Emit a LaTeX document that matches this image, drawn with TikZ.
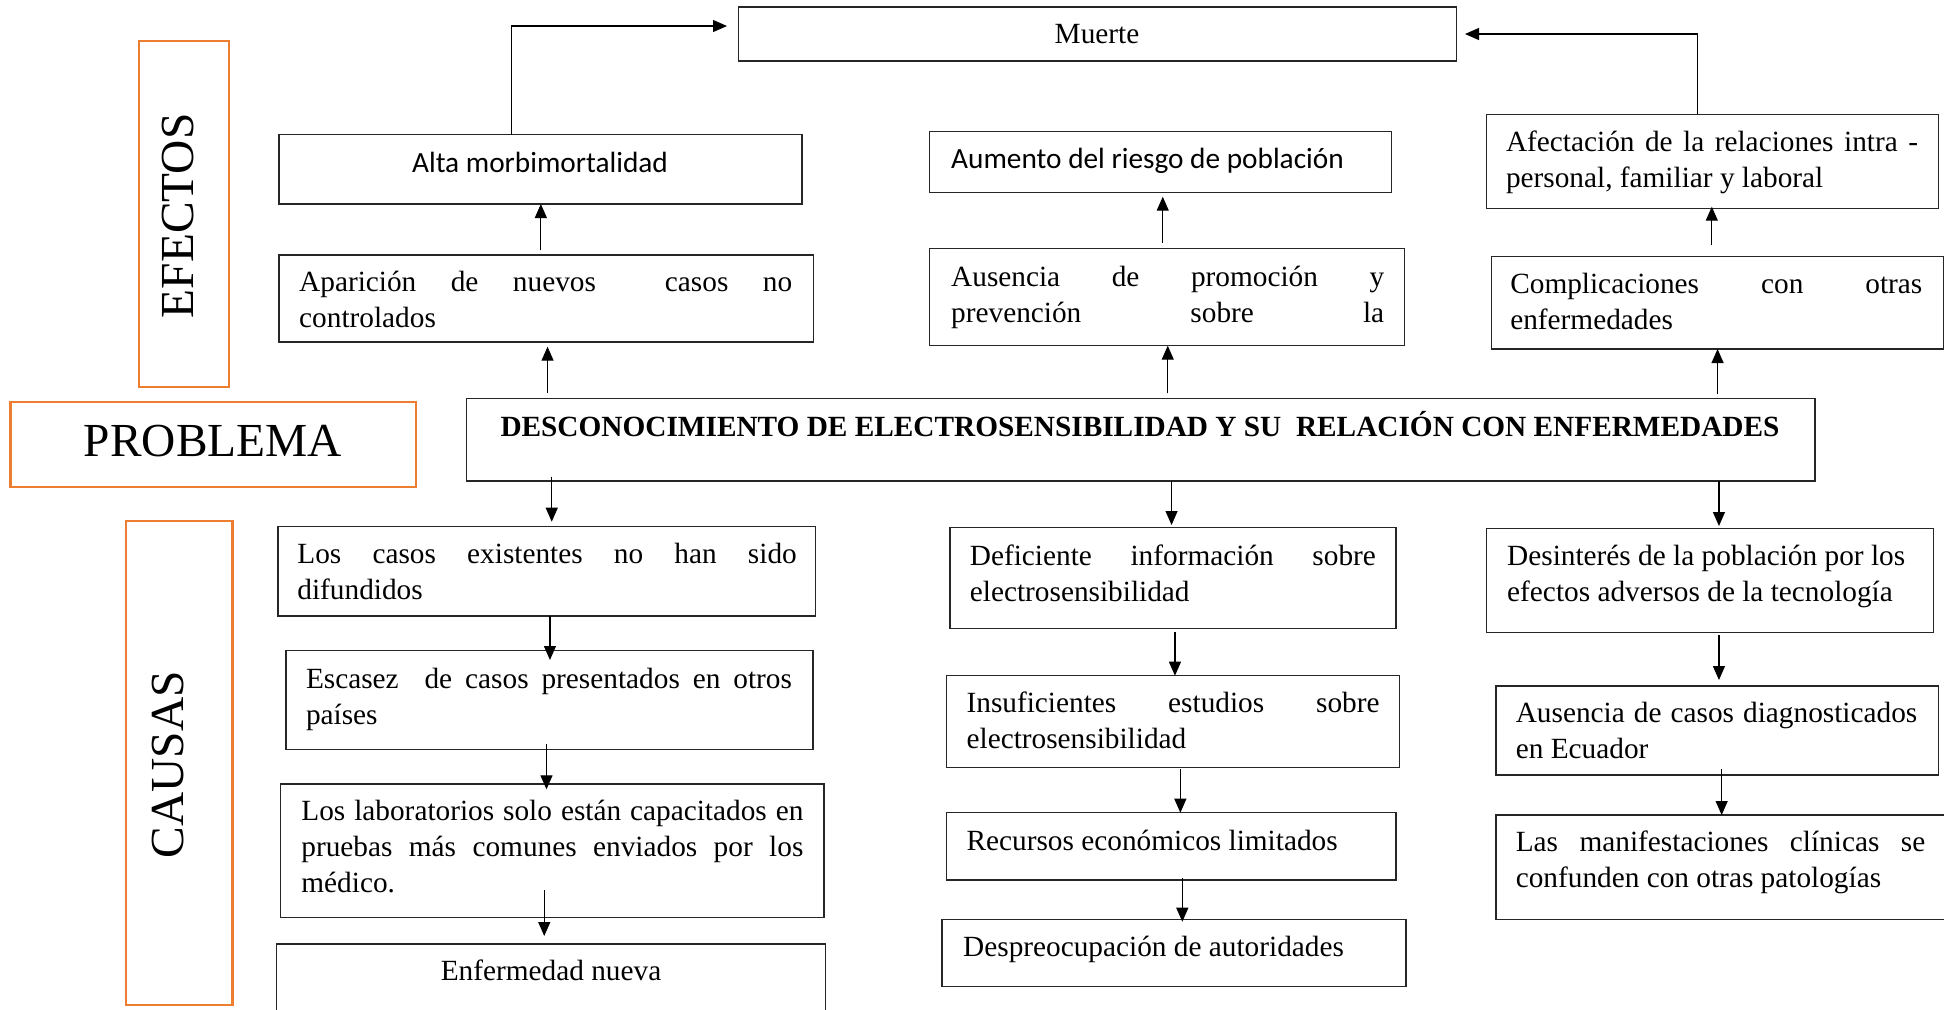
\documentclass[tikz,border=0pt]{standalone}
\usepackage{fontspec}
\setmainfont{Liberation Serif}
\newfontfamily\calib{Carlito}
\usetikzlibrary{arrows.meta,calc}
\definecolor{myorange}{RGB}{237,125,49}
\newcommand\bodysize{\fontsize{14.65}{18}\selectfont}
\newcommand\bigsize{\fontsize{23.7}{28}\selectfont}
\newcommand\J[2]{\makebox[#1][s]{\spaceskip=0pt\xspaceskip=0pt #2}}
\newcommand\mybx[6][box]{\node[#1, minimum width={(#5-#3)*0.5pt}, minimum height={(#6-#4)*0.5pt}] (#2) at (#3,#4) {};}
\tikzset{
  box/.style={draw=black!85, line width=0.7pt, inner sep=0pt, outer sep=0pt, anchor=north west},
  obox/.style={draw=myorange, line width=1.1pt, inner sep=0pt, outer sep=0pt, anchor=north west},
  txt/.style={inner sep=0pt, outer sep=0pt, anchor=north west, align=left, font=\bodysize, execute at begin node={\spaceskip=0pt\xspaceskip=0pt\strut}},
  one/.style={inner sep=0pt, outer sep=0pt, font=\bodysize},
  lbl/.style={inner sep=0pt, outer sep=0pt, font=\bigsize},
  arr/.style={-{Triangle[length=7pt,width=6pt]}, line width=0.6pt, draw=black}
}
\begin{document}
\begin{tikzpicture}[x=0.5pt,y=-0.5pt]
\useasboundingbox (0,0) rectangle (1944,1009);
\clip (0,0) rectangle (1944,1009);
% ---- boxes
\mybx[obox]{efectos}{138.6}{41}{228.6}{387}
\mybx[obox]{problema}{10.5}{401.7}{415.8}{486.7}
\mybx[obox]{causas}{126.3}{520.7}{232.5}{1005}
\mybx{muerte}{738.5}{7}{1456.6}{61}
\mybx{alta}{278.8}{134.7}{801.8}{204}
\mybx{aparicion}{278.8}{255}{813.3}{342}
\mybx{aumento}{929.7}{131.7}{1391.3}{192.7}
\mybx{ausprom}{929.7}{248.3}{1404.2}{345.7}
\mybx{afect}{1486.7}{114.3}{1938.3}{208.3}
\mybx{compl}{1491.7}{256.7}{1943.3}{349}
\mybx{main}{466.5}{398.3}{1815}{481}
\mybx{loscasos}{277.8}{526.7}{815.7}{616}
\mybx{escasez}{285.9}{650.7}{812.9}{749.3}
\mybx{lab}{280.7}{784}{823.8}{917.3}
\mybx{enf}{276.7}{944}{825.5}{1030}
\mybx{defic}{949.9}{527.7}{1396}{628.3}
\mybx{insuf}{946.6}{675.7}{1399.3}{767.7}
\mybx{recursos}{946.6}{812.7}{1396}{880}
\mybx{despreo}{942}{919.3}{1406}{986.7}
\mybx{desint}{1486.6}{528.3}{1933.3}{632.7}
\mybx{auscasos}{1495.9}{686}{1938.6}{775}
\mybx{manif}{1495.9}{815}{1960}{919.3}
% ---- labels
\node[lbl, rotate=90, anchor=base west] (tefectos) at (193.5,318) {EFECTOS};
\node[lbl, anchor=base] (tproblema) at (213,456.7) {PROBLEMA};
\node[lbl, rotate=90, anchor=base west] (tcausas) at (183.7,858.3) {CAUSAS};
% ---- texts
\node[one, anchor=base] (tmuerte) at (1097,43.3) {Muerte};
\node[one, font=\bodysize\calib, anchor=base] (talta) at (540,172.7) {Alta morbimortalidad};
\node[one, font=\bodysize\calib, anchor=base west] (taumento) at (951.2,168.3) {Aumento del riesgo de población};
\node[txt, text width=246.5pt] (taparicion) at (299.2,266.5) {\J{246.5pt}{Aparición de nuevos\ \ casos no}\\controlados};
\node[txt, text width=216.5pt] (tausprom) at (951.2,261.5) {\J{216.5pt}{Ausencia de promoción y}\\\J{216.5pt}{prevención sobre la}};
\node[txt, text width=206pt] (tafect) at (1506,126.5) {\J{206pt}{Afectación de la relaciones intra -}\\personal, familiar y laboral};
\node[txt, text width=206pt] (tcompl) at (1510.3,268.1) {\J{206pt}{Complicaciones con otras}\\enfermedades};
\node[one, font=\bodysize\bfseries, anchor=base west] (tmain) at (500.5,436.7) {DESCONOCIMIENTO DE ELECTROSENSIBILIDAD Y SU\ \ RELACIÓN CON ENFERMEDADES};
\node[txt, text width=249.7pt] (tloscasos) at (297.4,538.1) {\J{249.7pt}{Los casos existentes no han sido}\\difundidos};
\node[txt, text width=243pt] (tescasez) at (306,663.1) {\J{243pt}{Escasez\ \ de casos presentados en otros}\\países};
\node[txt, text width=251pt] (tlab) at (301.4,795.5) {\J{251pt}{Los laboratorios solo están capacitados en}\\\J{251pt}{pruebas más comunes enviados por los}\\médico.};
\node[one, anchor=base] (tenf) at (551,980) {Enfermedad nueva};
\node[txt, text width=203pt] (tdefic) at (969.9,539.8) {\J{203pt}{Deficiente información sobre}\\electrosensibilidad};
\node[txt, text width=206.5pt] (tinsuf) at (966.6,687.1) {\J{206.5pt}{Insuficientes estudios sobre}\\electrosensibilidad};
\node[one, anchor=base west] (trecursos) at (966.6,850) {Recursos económicos limitados};
\node[one, anchor=base west] (tdespreo) at (963.2,956.7) {Despreocupación de autoridades};
\node[txt, text width=199pt] (tdesint) at (1507.2,539.8) {\J{199pt}{Desinterés de la población por los}\\efectos adversos de la tecnología};
\node[txt, text width=200.75pt] (tauscasos) at (1515.8,697.5) {\J{200.75pt}{Ausencia de casos diagnosticados}\\en Ecuador};
\node[txt, text width=204.75pt] (tmanif) at (1515.8,826.5) {\J{204.75pt}{Las manifestaciones clínicas se}\\confunden con otras patologías};
% ---- connectors (effects, upward)
\draw[arr, shorten <=2.5pt] ([xshift=-2.6pt]aparicion.north) -- ([xshift=-2.6pt]aparicion.north |- alta.south);
\draw[arr, shorten <=2.8pt, shorten >=2.35pt] ([xshift=-296.6pt]main.north) -- ([xshift=-296.6pt]main.north |- aparicion.south);
\draw[arr, shorten >=5.75pt] ([xshift=-14.4pt]alta.north) |- ([yshift=4pt]muerte.west);
\draw[arr, shorten <=2.8pt, shorten >=2pt] ([xshift=-2.1pt]ausprom.north) -- ([xshift=-2.1pt]ausprom.north |- aumento.south);
\draw[arr, shorten <=2.5pt] ([xshift=13.5pt]main.north) -- ([xshift=13.5pt]main.north |- ausprom.south);
\draw[arr, shorten >=4.2pt] ([xshift=-7.55pt]afect.north) |- (muerte.east);
\draw[arr, shorten <=5.85pt, shorten >=-0.8pt] ([xshift=-2.85pt]compl.north) -- ([xshift=-2.85pt]compl.north |- afect.south);
\draw[arr, shorten <=2.15pt] ([xshift=288.4pt]main.north) -- ([xshift=288.4pt]main.north |- compl.south);
% ---- connectors (causes, downward)
\draw[arr, shorten <=-2.15pt, shorten >=2.5pt] ([xshift=-294.5pt]main.south) -- ([xshift=-294.5pt]main.south |- loscasos.north);
\draw[arr, shorten >=1.35pt] ([xshift=15.4pt]main.south) -- ([xshift=15.4pt]main.south |- defic.north);
\draw[arr, shorten >=1.15pt] ([xshift=289.1pt]main.south) -- ([xshift=289.1pt]main.south |- desint.north);
\draw[arr, shorten >=-4.65pt] ([xshift=1.6pt]loscasos.south) -- ([xshift=1.6pt]loscasos.south |- escasez.north);
\draw[arr, shorten <=-2.5pt, shorten >=-2.65pt] ([xshift=-1.45pt]escasez.south) -- ([xshift=-1.45pt]escasez.south |- lab.north);
\draw[arr, shorten <=-13.65pt, shorten >=4pt] ([xshift=-4pt]lab.south) -- ([xshift=-4pt]lab.south |- enf.north);
\draw[arr, shorten <=1.7pt] ([xshift=1pt]defic.south) -- ([xshift=1pt]defic.south |- insuf.north);
\draw[arr, shorten <=0.8pt] ([xshift=3.7pt]insuf.south) -- ([xshift=3.7pt]insuf.south |- recursos.north);
\draw[arr, shorten <=-1.15pt, shorten >=-1.2pt] ([xshift=5.5pt]recursos.south) -- ([xshift=5.5pt]recursos.south |- despreo.north);
\draw[arr, shorten <=1.15pt, shorten >=3pt] ([xshift=4.5pt]desint.south) -- ([xshift=4.5pt]desint.south |- auscasos.north);
\draw[arr, shorten <=-2.85pt] ([xshift=2.2pt]auscasos.south) -- ([xshift=2.2pt]auscasos.south |- manif.north);
\end{tikzpicture}
\end{document}
